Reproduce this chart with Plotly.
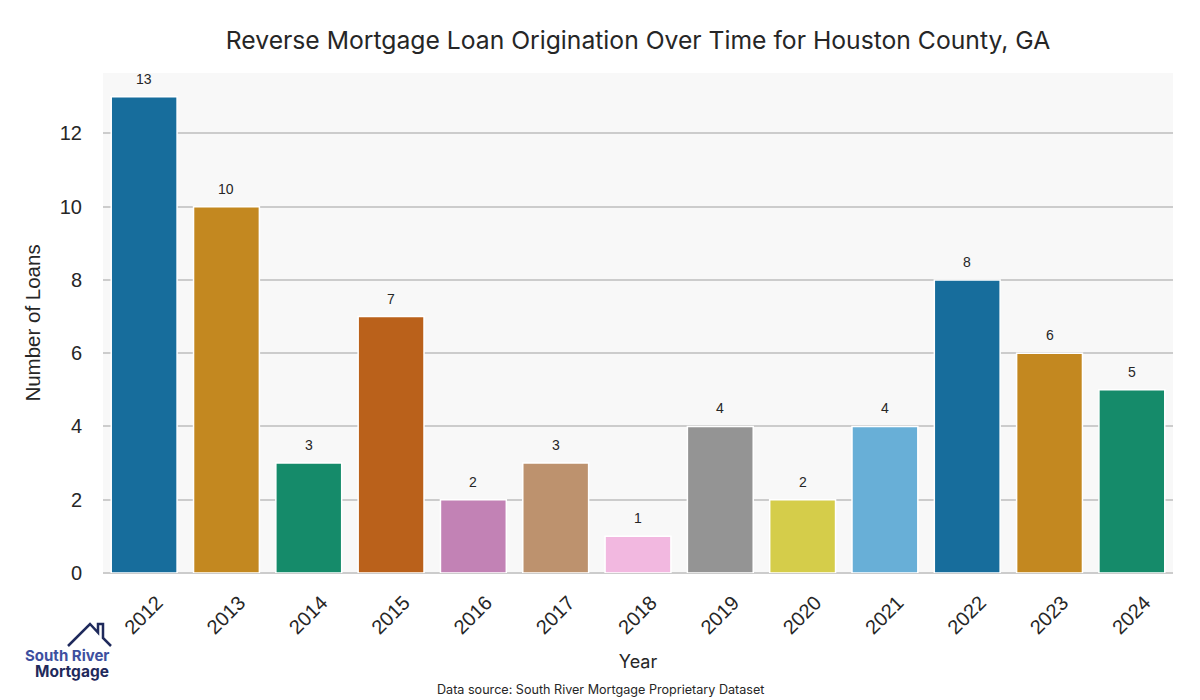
import colorsys
import plotly.graph_objects as go

years = ["2012", "2013", "2014", "2015", "2016", "2017", "2018", "2019", "2020", "2021", "2022", "2023", "2024"]
loans = [13, 10, 3, 7, 2, 3, 1, 4, 2, 4, 8, 6, 5]

base_palette = ["#0173b2", "#de8f05", "#029e73", "#d55e00", "#cc78bc", "#ca9161",
                "#fbafe4", "#949494", "#ece133", "#56b4e9"]


def desat(hexc, f=0.75):
    r, g, b = (int(hexc[i:i + 2], 16) / 255 for i in (1, 3, 5))
    h, l, s = colorsys.rgb_to_hls(r, g, b)
    r, g, b = colorsys.hls_to_rgb(h, l, s * f)
    return "#%02x%02x%02x" % (round(r * 255), round(g * 255), round(b * 255))


colors = [desat(base_palette[i % len(base_palette)]) for i in range(len(years))]

# the page adds an 8px body margin; the figure is sized so page coordinates match
OFF = 8
W, H = 1200 - OFF, 700 - OFF
ML, MR, MT, MB = 103 - OFF, 27, 73 - OFF, 127
PW, PH = W - ML - MR, H - MT - MB


def pxx(x):  # page pixel -> paper
    return (x - OFF - ML) / PW


def pxy(y):
    return (H - MB - (y - OFF)) / PH


TXT = "#262626"
GEO = "Inter, Lato, sans-serif"
ARI = "Liberation Sans, Arial, sans-serif"

fig = go.Figure(go.Bar(
    x=years, y=loans,
    marker=dict(color=colors, line=dict(color="white", width=1.5)),
))

# value labels above bars (category position index on the x axis)
for i, v in enumerate(loans):
    fig.add_annotation(x=i, y=v, xref="x", yref="y", text=str(v), showarrow=False, yshift=18,
                       font=dict(family=ARI, size=14, color=TXT))

fig.update_layout(
    width=W, height=H,
    paper_bgcolor="white", plot_bgcolor="#f8f8f8",
    margin=dict(l=ML, r=MR, t=MT, b=MB),
    bargap=0.2,
    showlegend=False,
    title=dict(text="Reverse Mortgage Loan Origination Over Time for Houston County, GA",
               x=0.5, xref="paper", xanchor="center", y=1 - (40 - OFF) / H, yanchor="middle",
               font=dict(family=GEO, size=24.7, color=TXT)),
    xaxis=dict(
        type="category", range=[-0.5, len(years) - 0.5],
        title=dict(text="Year", font=dict(family=GEO, size=18, color=TXT), standoff=18),
        tickangle=-45, tickfont=dict(family=ARI, size=20, color=TXT),
        ticklabelshift=13, ticklabelstandoff=13,
        showgrid=False, showline=False, ticks="",
    ),
    yaxis=dict(
        title=dict(text="Number of Loans", font=dict(family=ARI, size=20.5, color=TXT), standoff=13),
        range=[0, 13.65], tickvals=[0, 2, 4, 6, 8, 10, 12],
        tickfont=dict(family=ARI, size=20, color=TXT),
        ticks="outside", ticklen=16, tickcolor="rgba(0,0,0,0)",
        showgrid=True, gridcolor="#cccccc", gridwidth=1.5,
        zeroline=True, zerolinecolor="#cccccc", zerolinewidth=1.5,
        showline=False,
    ),
)

fig.add_annotation(text="Data source: South River Mortgage Proprietary Dataset",
                   xref="paper", yref="paper", x=pxx(600), y=pxy(689), yanchor="middle",
                   xanchor="center", showarrow=False,
                   font=dict(family=GEO, size=12.6, color=TXT))

# logo
fig.add_annotation(text="<b>South River</b>", xref="paper", yref="paper", x=pxx(111), y=pxy(655),
                   xanchor="right", yanchor="middle", showarrow=False,
                   font=dict(family=GEO, size=15, color="#3d4f9f"))
fig.add_annotation(text="<b>Mortgage</b>", xref="paper", yref="paper", x=pxx(111), y=pxy(671),
                   xanchor="right", yanchor="middle", showarrow=False,
                   font=dict(family=GEO, size=15.5, color="#1f2a5c"))
roof = [(68, 646), (90, 624), (98, 632.5), (98, 624), (103, 624), (103, 638), (111, 646)]
path = "M " + " L ".join("%.5f %.5f" % (pxx(a), pxy(b)) for a, b in roof)
fig.add_shape(type="path", xref="paper", yref="paper", path=path,
              line=dict(color="#1f2a5c", width=2.5), layer="above")

fig.write_html("out.html", config={"displayModeBar": False})
